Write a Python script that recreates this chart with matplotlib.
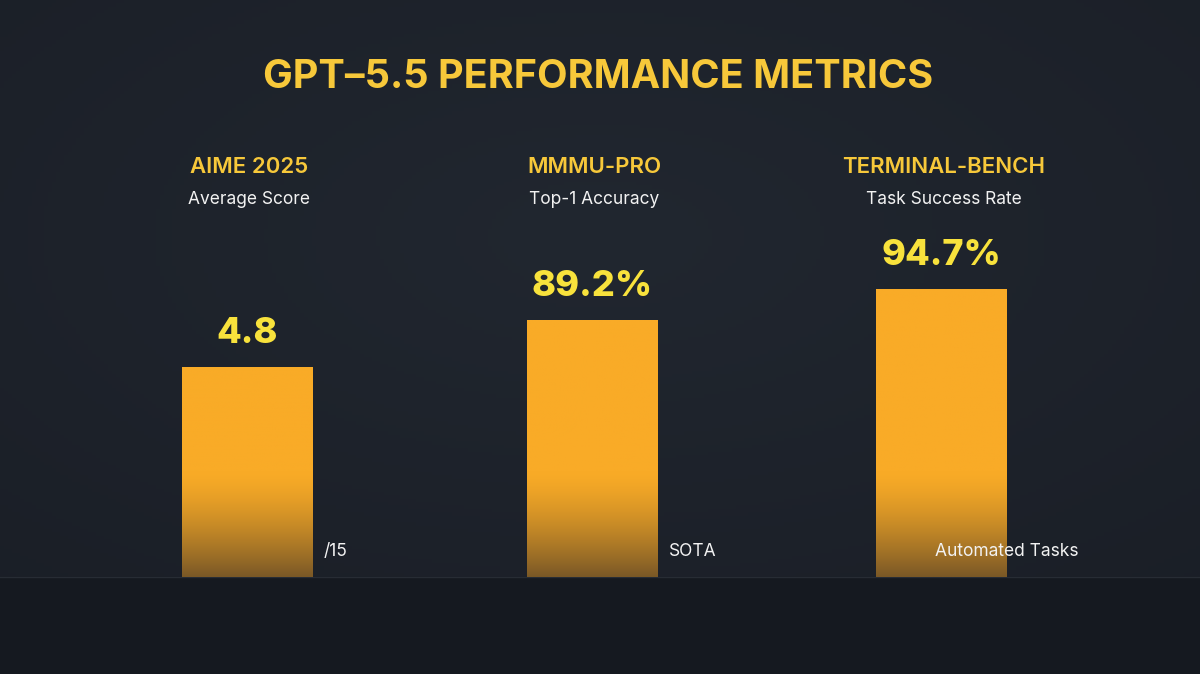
import numpy as np
import matplotlib
matplotlib.use("Agg")
import matplotlib.pyplot as plt
from matplotlib.patches import Rectangle

# ---- data ----
title = "GPT\u20135.5 PERFORMANCE METRICS"
benchmarks = ["AIME 2025", "MMMU-PRO", "TERMINAL-BENCH"]
metrics = ["Average Score", "Top-1 Accuracy", "Task Success Rate"]
values = [4.8, 89.2, 94.7]
value_labels = ["4.8", "89.2%", "94.7%"]
notes = ["/15", "SOTA", "Automated Tasks"]

# ---- style ----
W, H, DPI = 1200, 674, 100
BG = "#1e232b"
BOTTOM_BG = "#151920"
GOLD = "#f7c83a"
VAL_YELLOW = "#f8e23c"
FONT = "Inter"

fig = plt.figure(figsize=(W / DPI, H / DPI), dpi=DPI, facecolor=BG)

# background vignette
bgax = fig.add_axes([0, 0, 1, 1], zorder=-10)
bgax.set_axis_off()
yy, xx = np.mgrid[0:1:200j, 0:1:300j]
d = np.sqrt((xx - 0.5) ** 2 * 0.8 + (yy - 0.35) ** 2)
base = np.array([0x21, 0x27, 0x30]) / 255
edge = np.array([0x1a, 0x1e, 0x26]) / 255
t = np.clip(d / 0.75, 0, 1)[..., None]
img = base * (1 - t) + edge * t
bgax.imshow(img, extent=[0, 1, 0, 1], aspect="auto", origin="upper")
bgax.set_xlim(0, 1)
bgax.set_ylim(0, 1)
base_y = (H - 577) / H
bgax.add_patch(Rectangle((0, 0), 1, base_y, color=BOTTOM_BG, zorder=2))
bgax.plot([0, 1], [base_y, base_y], color="#272c34", lw=1, zorder=3)

fig.text(598 / W, 1 - 77 / H, title, ha="center", va="center", color=GOLD,
         fontsize=28.5, fontweight="bold", family=FONT)

centers = [247, 592, 941]
bar_w = 131
head_y = 167
sub_y = 200
panel_w = 300
ax_top = 177
ylims = [9.14, 138.8, 131.5]
note_x = [336, 693, 1007]
note_y = 551
fade_px = 105

top = np.array([0xf9, 0xab, 0x27]) / 255
bot = np.array([0x7a, 0x58, 0x26]) / 255

for i in range(3):
    left = (centers[i] - panel_w / 2) / W
    ax = fig.add_axes([left, base_y, panel_w / W, (577 - ax_top) / H])
    ax.set_axis_off()
    ax.set_xlim(0, 1)
    ax.set_ylim(0, ylims[i])
    bw = bar_w / panel_w
    bars = ax.bar([0.5], [values[i]], width=bw, color="none", edgecolor="none")
    rect = bars[0]
    x0 = rect.get_x()
    h = rect.get_height()
    # gradient fading over the bottom fade_px pixels
    px_h = h / ylims[i] * (577 - ax_top)
    n = 256
    g = np.linspace(0, 1, n)  # 0 top -> 1 bottom
    dist_from_bottom = (1 - g) * px_h
    fade = np.clip(1 - dist_from_bottom / fade_px, 0, 1) ** 1.4
    grad = top[None, :] * (1 - fade[:, None]) + bot[None, :] * fade[:, None]
    im = ax.imshow(grad[:, None, :], extent=[x0, x0 + bw, 0, h], aspect="auto",
                   origin="upper", zorder=2)
    im.set_clip_path(rect)
    ax.annotate(value_labels[i], (0.5, h), xytext=(0, 17), textcoords="offset pixels",
                ha="center", va="bottom", color=VAL_YELLOW, fontsize=26,
                fontweight="heavy", family=FONT)

    fig.text(centers[i] / W + 0.002, 1 - head_y / H, benchmarks[i], ha="center",
             va="center", color=GOLD, fontsize=16, fontweight="semibold", family=FONT)
    fig.text(centers[i] / W + 0.002, 1 - sub_y / H, metrics[i], ha="center",
             va="center", color="#f2f2f2", fontsize=12.5, family=FONT)
    fig.text(note_x[i] / W, 1 - note_y / H, notes[i], ha="center", va="center",
             color="#f2f2f2", fontsize=12.5, family=FONT, zorder=5)

fig.savefig("out.png", dpi=DPI, facecolor=BG)
